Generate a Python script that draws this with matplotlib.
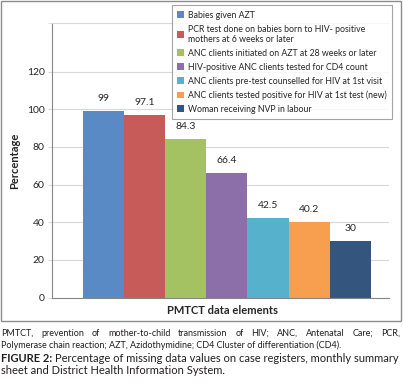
import matplotlib
matplotlib.use('Agg')
import matplotlib.pyplot as plt
from matplotlib.patches import Rectangle

plt.rcParams['font.family'] = ['Lato', 'DejaVu Sans']

# data
elements = ['Babies given AZT',
            'PCR test done on babies born to HIV- positive\nmothers at 6 weeks or later',
            'ANC clients initiated on AZT at 28 weeks or later',
            'HIV-positive ANC clients tested for CD4 count',
            'ANC clients pre-test counselled for HIV at 1st visit',
            'ANC clients tested positive for HIV at 1st test (new)',
            'Woman receiving NVP in labour']
missing = [99, 97.1, 84.3, 66.4, 42.5, 40.2, 30]
value_labels = ['99', '97.1', '84.3', '66.4', '42.5', '40.2', '30']
colors = ['#5a8ac6', '#c75b5a', '#a5c262', '#8c6fa8', '#56b2cc', '#f79e4f', '#34567e']
y_ticks = [0, 20, 40, 60, 80, 100, 120]

note_1 = ('PMTCT, prevention of mother-to-child transmission of HIV; ANC, '
          'Antenatal Care; PCR,')
note_2 = ('Polymerase chain reaction; AZT, Azidothymidine; CD4 Cluster of '
          'differentiation (CD4).')
fig_no = 'FIGURE 2:'
fig_title_1 = 'Percentage of missing data values on case registers, monthly summary'
fig_title_2 = 'sheet and District Health Information System.'

W, H = 403, 385
fig = plt.figure(figsize=(W / 100, H / 100), dpi=100)


def fx(px):
    return px / W


def fy(py):
    return 1 - py / H


# chart frame
fig.patches.append(Rectangle((fx(1), fy(321)), fx(400), 320 / H, transform=fig.transFigure,
                             fill=False, edgecolor='#8c8c8c', lw=1.0))

ax_left, ax_right, ax_top, ax_bottom = 51.7, 389, 23.3, 297.6
ax = fig.add_axes([fx(ax_left), fy(ax_bottom), (ax_right - ax_left) / W, (ax_bottom - ax_top) / H])

for i, (lab, val, c) in enumerate(zip(elements, missing, colors)):
    ax.bar(i, val, width=1.0, color=c, label=lab, zorder=2)
    ax.annotate(value_labels[i], (i, val), xytext=(0, 7), textcoords='offset points',
                ha='center', va='baseline', fontsize=7.5, color='#262626')

ax.set_xlim(-1.252, 6.937)
ax.set_ylim(0, 145.7)
ax.set_yticks(y_ticks)
ax.set_yticks([145.7], minor=True)
ax.set_xticks([])
ax.yaxis.grid(True, color='#d9d9d9', lw=0.8)
ax.set_axisbelow(True)
ax.tick_params(axis='y', which='major', length=3, color='#d9d9d9', labelsize=7.5,
               labelcolor='#262626', pad=2)
ax.tick_params(axis='y', which='minor', length=3, color='#d9d9d9')
for s in ['left', 'bottom']:
    ax.spines[s].set_color('#868686')
    ax.spines[s].set_linewidth(0.8)
ax.spines['top'].set_color('#d9d9d9')
ax.spines['top'].set_linewidth(0.8)
ax.spines['right'].set_visible(False)

ax.set_ylabel('Percentage', fontsize=8, fontweight='bold', color='#262626')
ax.yaxis.set_label_coords(-0.095, 0.5)
ax.set_xlabel('PMTCT data elements', fontsize=8, fontweight='bold', color='#262626')
ax.xaxis.set_label_coords(0.505, -0.028)

leg = ax.legend(loc='upper left', bbox_to_anchor=(fx(171.7), fy(5.5)),
                bbox_transform=fig.transFigure, fontsize=6.35, frameon=True, fancybox=False,
                edgecolor='#8c8c8c', borderaxespad=0, handlelength=0.8, handleheight=0.8,
                handletextpad=0.5, labelspacing=0.55, borderpad=0.6)
leg.get_frame().set_linewidth(0.8)
for t in leg.get_texts():
    t.set_color('#262626')

# caption below the chart
fig.canvas.draw()
r = fig.canvas.get_renderer()
cap_color = '#231f20'


def fit_size(text, width, size=8, **kw):
    t = fig.text(0, 0, text, fontsize=size, **kw)
    w = t.get_window_extent(r).width
    t.remove()
    return size * width / w


note_size = fit_size(note_2, 346)
fig.text(fx(1), fy(345), note_2, fontsize=note_size, color=cap_color, va='center')

# first line is justified across the full width
words = note_1.split()
texts = [fig.text(0, fy(333), w_, fontsize=note_size, color=cap_color, va='center') for w_ in words]
widths = [t.get_window_extent(r).width for t in texts]
gap = (400 - 1 - sum(widths)) / (len(words) - 1)
x = 1
for t, w_ in zip(texts, widths):
    t.set_x(fx(x))
    x += w_ + gap

t1 = fig.text(0, 0, fig_no + ' ', fontsize=9, fontweight='bold')
t2 = fig.text(0, 0, fig_title_1, fontsize=9)
w_all = t1.get_window_extent(r).width + t2.get_window_extent(r).width
title_size = 9 * 399 / w_all
t1.remove()
t2.remove()
t1 = fig.text(fx(1), fy(358), fig_no + ' ', fontsize=title_size, fontweight='bold',
              color=cap_color, va='center')
w1 = t1.get_window_extent(r).width
fig.text(fx(1 + w1), fy(358), fig_title_1, fontsize=title_size, color=cap_color, va='center')
fig.text(fx(1), fy(371), fig_title_2, fontsize=title_size, color=cap_color, va='center')

fig.savefig('out.png', dpi=100)
